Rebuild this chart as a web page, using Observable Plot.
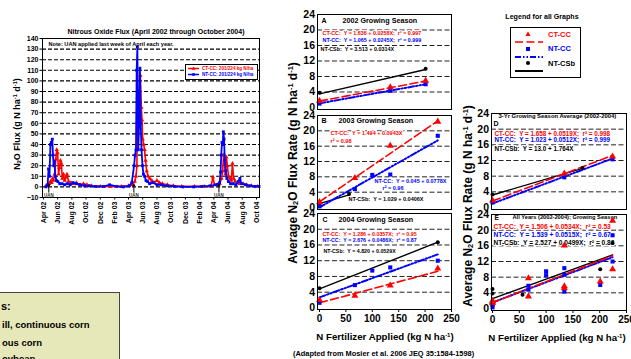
<!DOCTYPE html>
<html><head><meta charset="utf-8">
<script src="https://cdn.jsdelivr.net/npm/d3@7"></script>
<script src="https://cdn.jsdelivr.net/npm/@observablehq/plot@0.6"></script>
<style>
html,body{margin:0;padding:0;background:#fff;}
body{width:631px;height:359px;overflow:hidden;position:relative;font-family:"Liberation Sans",Arial,sans-serif;font-weight:bold;color:#000;}
.abs{position:absolute;white-space:nowrap;line-height:1;}
.ctr{transform:translate(-50%,-50%);}
.rot{transform:translate(-50%,-50%) rotate(-90deg);}
.sup{font-size:62%;vertical-align:0.55em;}
.sub{font-size:62%;vertical-align:-0.2em;}
svg{overflow:visible;}
</style></head><body>
<script>
// ---------------- DATA ----------------
// Time series: N2O flux (g N ha-1 d-1)
const ctccFlux = [
["2002-04-12",1],["2002-04-22",1],["2002-04-26",3],["2002-05-01",5],["2002-05-06",4],["2002-05-10",8],["2002-05-14",6],
["2002-05-19",12],["2002-05-24",26],["2002-05-28",35],["2002-06-01",32],["2002-06-05",12],["2002-06-09",18],["2002-06-13",25],
["2002-06-17",22],["2002-06-21",8],["2002-06-26",12],["2002-07-01",6],["2002-07-06",9],["2002-07-11",12],["2002-07-18",5],
["2002-07-28",4],["2002-08-08",3],["2002-08-20",4],["2002-09-05",2],["2002-09-20",3],["2002-10-05",2],["2002-10-25",1],
["2002-12-01",0.5],["2003-01-15",0.5],["2003-03-01",0.5],["2003-04-01",1],["2003-04-18",2],["2003-04-28",5],["2003-05-03",10],
["2003-05-07",20],["2003-05-10",84],["2003-05-14",90],["2003-05-18",60],["2003-05-22",105],["2003-05-26",75],["2003-05-29",63],
["2003-06-01",45],["2003-06-05",40],["2003-06-09",35],["2003-06-13",25],["2003-06-18",15],["2003-06-24",10],["2003-07-01",8],
["2003-07-10",6],["2003-07-20",4],["2003-08-01",6],["2003-08-12",4],["2003-08-25",3],["2003-09-15",2],["2003-10-10",1],
["2003-11-15",0.5],["2004-01-10",0.5],["2004-02-20",0.5],["2004-03-20",0.5],["2004-03-28",9],["2004-04-04",2],["2004-04-15",2],
["2004-04-26",3],["2004-05-04",8],["2004-05-09",15],["2004-05-13",30],["2004-05-17",22],["2004-05-21",12],["2004-05-25",28],
["2004-05-29",20],["2004-06-03",10],["2004-06-09",8],["2004-06-15",6],["2004-06-20",22],["2004-06-25",8],["2004-07-02",5],
["2004-07-12",4],["2004-07-22",3],["2004-08-05",3],["2004-08-20",2],["2004-09-10",1],["2004-10-05",0.5]
];
const ntccFlux = [
["2002-04-12",0],["2002-04-19",2],["2002-04-23",17],["2002-04-27",10],["2002-05-01",40],["2002-05-05",42],["2002-05-09",45],
["2002-05-12",30],["2002-05-15",20],["2002-05-18",24],["2002-05-22",10],["2002-05-27",6],["2002-06-02",5],["2002-06-10",3],
["2002-06-20",3],["2002-07-01",2],["2002-07-12",3],["2002-07-25",2],["2002-08-06",4],["2002-08-20",3],["2002-09-05",2],
["2002-09-25",1],["2002-10-15",1],["2002-11-10",0.5],["2002-12-15",0.5],["2003-01-10",2],["2003-02-10",0.5],["2003-03-10",0],
["2003-04-05",1],["2003-04-15",4],["2003-04-25",20],["2003-04-29",30],["2003-05-03",35],["2003-05-06",110],["2003-05-09",132],
["2003-05-13",35],["2003-05-17",64],["2003-05-20",112],["2003-05-23",60],["2003-05-27",35],["2003-05-31",20],["2003-06-04",12],
["2003-06-09",10],["2003-06-15",6],["2003-06-22",5],["2003-07-01",3],["2003-07-15",4],["2003-08-01",2],["2003-08-20",2],
["2003-09-15",1],["2003-10-15",0.5],["2003-11-20",0],["2004-01-05",0],["2004-02-10",0.5],["2004-03-15",1],["2004-04-10",2],
["2004-04-26",4],["2004-04-30",14],["2004-05-03",30],["2004-05-06",42],["2004-05-09",40],["2004-05-12",52],["2004-05-15",45],
["2004-05-18",25],["2004-05-22",15],["2004-05-27",8],["2004-06-03",5],["2004-06-12",3],["2004-06-22",3],["2004-07-05",2],
["2004-07-15",5],["2004-07-22",8],["2004-07-29",3],["2004-08-15",2],["2004-09-05",1],["2004-09-25",0.5],["2004-10-12",0.5]
];
const tsTickDates = ["2002-04-01","2002-06-01","2002-08-01","2002-10-01","2002-12-01","2003-02-01","2003-04-01","2003-06-01",
"2003-08-01","2003-10-01","2003-12-01","2004-02-01","2004-04-01","2004-06-01","2004-08-01","2004-10-01"];
const tsTickLabels = ["Apr 02","Jun 02","Aug 02","Oct 02","Dec 02","Feb 03","Apr 03","Jun 03","Aug 03","Oct 03","Dec 03",
"Feb 04","Apr 04","Jun 04","Aug 04","Oct 04"];
const tsYTicks = [-10,0,10,20,30,40,50,60,70,80,90,100,110,120,130,140];
const tsGrid = [0,10,20,30,40,50,60,70,80,90,100,110,120,130];
const uanDates = ["2002-04-24","2003-04-24","2004-04-23"];
const uanArrowY = [-5, 2.5];
const uanLabelY = -8;

// Panels: fertilizer N (kg N/ha) vs average flux
const fertTicks = [0,50,100,150,200,250];
const fluxTicks = [0,4,8,12,16,20,24];
const fluxGrid = [4,8,12,16,20];

const a_ct = [[0,1.7],[134,5.2],[201,6.9]];
const a_nt = [[0,1.0],[134,4.3],[201,6.0]];
const a_sb = [[0,3.8],[201,10.0]];
const a_ctFit = [[0,1.64],[201,6.82]];
const a_ntFit = [[0,1.07],[201,6.0]];
const a_sbFit = [[0,3.51],[201,9.8]];

const b_ct = [[0,1.4],[67,7.7],[134,16.1],[224,22.4]];
const b_nt = [[0,0.3],[67,4.8],[100,8.5],[134,8.6],[224,18.7]];
const b_sb = [[0,1.0],[56,3.5]];
const b_ctFit = [[0,1.49],[224,22.6]];
const b_ntFit = [[0,0.05],[224,17.5]];
const b_sbFit = [[0,1.03],[56,3.3]];

const c_ct = [[0,2.0],[67,3.1],[134,5.7],[224,10.0]];
const c_nt = [[0,1.3],[67,5.8],[100,9.5],[134,10.3],[224,12.0]];
const c_sb = [[0,5.0],[224,16.7]];
const c_ctFit = [[0,1.29],[224,9.3]];
const c_ntFit = [[0,2.68],[224,13.6]];
const c_sbFit = [[0,4.82],[224,16.7]];

const d_ct = [[0,1.8],[134,8.7],[224,13.0]];
const d_nt = [[0,1.3],[134,7.7],[224,12.3]];
const d_sb = [[0,3.3],[168,10.1]];
const d_ctFit = [[0,1.66],[224,13.3]];
const d_ntFit = [[0,1.02],[224,12.5]];
const d_sbFit = [[0,3.2],[168,10.0]];

const e_ctFit = [[0,1.51],[224,13.5]];
const e_ntFit = [[0,1.54],[224,13.1]];
const e_sbFit = [[0,2.53],[224,13.7]];

// ---------------- STYLE ----------------
const RED = "#ff0000", BLUE = "#0000ff", BLK = "#000";
const FONT = '"Liberation Sans", Arial, sans-serif';
const baseStyle = {fontFamily: FONT, fontWeight: "bold", background: "transparent", overflow: "visible", color: "#000"};
const P = d3.utcParse("%Y-%m-%d");
const pts = arr => arr.map(([n, f]) => ({n, f}));

function put(el, left, top) {
  el.style.position = "absolute";
  el.style.left = left + "px";
  el.style.top = top + "px";
  document.body.appendChild(el);
  return el;
}
function html(s, left, top, cls, css) {
  const d = document.createElement("div");
  d.className = "abs " + (cls || "");
  d.innerHTML = s;
  if (css) d.style.cssText = css;
  return put(d, left, top);
}

// ---------------- TIME SERIES ----------------
const ct = ctccFlux.map(([d, v]) => ({date: P(d), v}));
const nt = ntccFlux.map(([d, v]) => ({date: P(d), v}));
const tickDates = tsTickDates.map(P);
const labelMap = new Map(tickDates.map((d, i) => [+d, tsTickLabels[i]]));
const uan = uanDates.map(P);

const ts = Plot.plot({
  width: 265, height: 240,
  marginLeft: 42, marginRight: 6, marginTop: 38, marginBottom: 43,
  x: {type: "utc", domain: [P("2002-03-28"), P("2004-10-14")], axis: null},
  y: {domain: [-10, 140], axis: null},
  style: baseStyle,
  marks: [
    Plot.ruleY(tsGrid, {stroke: "#000", strokeWidth: 1.1, strokeDasharray: "4,2"}),
    Plot.line(ct, {x: "date", y: "v", stroke: RED, strokeWidth: 1.6}),
    Plot.dot(ct, {x: "date", y: "v", symbol: "triangle", r: 1.6, fill: RED}),
    Plot.line(nt, {x: "date", y: "v", stroke: BLUE, strokeWidth: 1.8}),
    Plot.dot(nt, {x: "date", y: "v", symbol: "square", r: 1.6, fill: BLUE}),
    Plot.arrow(uan, {x1: d => d, x2: d => d, y1: uanArrowY[0], y2: uanArrowY[1], stroke: "#000", strokeWidth: 1, headLength: 3}),
    Plot.text(uan, {x: d => d, y: uanLabelY, text: () => "UAN", fontSize: 4.5, fill: "#333"}),
    Plot.text(["Note: UAN applied last week of April each year."], {text: d => d, frameAnchor: "top-left", textAnchor: "start", lineAnchor: "middle", dx: 6, dy: 5.5, fontSize: 5.6}),
    Plot.frame({stroke: "#000", strokeWidth: 1}),
    Plot.axisY(tsYTicks, {tickSize: 2.5, tickPadding: 1.5, fontSize: 7, label: null}),
    Plot.axisX(tickDates, {tickSize: 2.5, tickPadding: 1.5, tickRotate: -90, fontSize: 7, label: null, tickFormat: d => labelMap.get(+d)})
  ]
});
put(ts, 0, 0);

html("Nitrous Oxide Flux (April 2002 through October 2004)", 156, 31, "ctr", "font-size:7px");
html('N<span class="sub">2</span>O Flux (g N ha<span class="sup">-1</span> d<span class="sup">-1</span>)', 18, 124, "rot", "font-size:9px");

// time-series legend
(function(){
  const ns = "http://www.w3.org/2000/svg";
  const s = document.createElementNS(ns, "svg");
  s.setAttribute("width", 74); s.setAttribute("height", 17);
  s.innerHTML = `
  <rect x="0.5" y="0.5" width="72" height="15" fill="#fff" stroke="#000" stroke-width="1"/>
  <line x1="3" x2="14" y1="4.5" y2="4.5" stroke="${RED}" stroke-width="1.5"/>
  <path d="M8.5,2.6 L10.4,5.8 L6.6,5.8 Z" fill="${RED}"/>
  <text x="17" y="4.5" dominant-baseline="middle" font-size="4.6" fill="${RED}" font-family='${FONT}' font-weight="bold">CT-CC:  201/224 kg N/ha</text>
  <line x1="3" x2="14" y1="10.5" y2="10.5" stroke="${BLUE}" stroke-width="1.5"/>
  <rect x="7.2" y="9.2" width="2.6" height="2.6" fill="${BLUE}"/>
  <text x="17" y="10.5" dominant-baseline="middle" font-size="4.6" fill="${BLUE}" font-family='${FONT}' font-weight="bold">NT-CC:  201/224 kg N/ha</text>`;
  put(s, 185, 64);
})();

// yellow treatments box (clipped at left edge)
html("", -30, 292, "", "width:150px;height:100px;background:#e7e8b9;border:1px solid #444;box-sizing:border-box;");
html("s:", 1, 301, "", "font-size:11px");
html("ill, continuous corn", 2, 320, "", "font-size:9.5px");
html("ous corn", 2, 338, "", "font-size:9.5px");
html("oybean", 2, 354, "", "font-size:9.5px");

// ---------------- PANELS ----------------
function panel(p) {
  const txt = p.texts.map(t => Plot.text([t.s], {
    text: d => d, frameAnchor: "top-left", textAnchor: "start", lineAnchor: "middle",
    dx: t.dx, dy: t.dy, fill: t.c || BLK, fontSize: t.fs, stroke: "white", strokeWidth: 2.2
  }));
  const marks = [
    Plot.ruleY(fluxGrid, {stroke: "#222", strokeWidth: 1, strokeDasharray: "5,2.5"}),
    ...txt,
    Plot.line(pts(p.sbFit), {x: "n", y: "f", stroke: BLK, strokeWidth: 1.4}),
    Plot.line(pts(p.ntFit), {x: "n", y: "f", stroke: BLUE, strokeWidth: 2, strokeDasharray: "6,2,1.5,2,1.5,2"}),
    Plot.line(pts(p.ctFit), {x: "n", y: "f", stroke: RED, strokeWidth: 1.6, strokeDasharray: "8,3.5"}),
    Plot.dot(pts(p.sb), {x: "n", y: "f", r: 2, fill: BLK}),
    Plot.dot(pts(p.nt), {x: "n", y: "f", symbol: "square", r: 2.3, fill: BLUE}),
    Plot.dot(pts(p.ct), {x: "n", y: "f", symbol: "triangle", r: 2.6, fill: RED}),
    Plot.frame({stroke: "#000", strokeWidth: 1}),
    Plot.axisY(fluxTicks, {tickSize: 0, tickPadding: 2.5, fontSize: 10.5, label: null})
  ];
  if (p.xlabels) marks.push(Plot.axisX(fertTicks, {tickSize: 3, tickPadding: 2.5, fontSize: 10, label: null}));
  const svg = Plot.plot({
    width: p.w, height: p.h,
    marginLeft: p.ml, marginRight: p.mr, marginTop: p.mt, marginBottom: p.mb,
    x: {domain: p.xdom, axis: null},
    y: {domain: p.ydom, axis: null},
    style: baseStyle,
    marks
  });
  put(svg, p.left, p.top);
}

panel({left: 285, top: 0, w: 172, h: 113, ml: 32, mr: 6, mt: 14, mb: 4, xdom: [-3.8, 250], ydom: [-0.52, 24],
  ct: a_ct, nt: a_nt, sb: a_sb, ctFit: a_ctFit, ntFit: a_ntFit, sbFit: a_sbFit,
  texts: [
    {s: "A", dx: 4, dy: 6, fs: 7},
    {s: "2002 Growing Season", dx: 25, dy: 6, fs: 7.2},
    {s: "CT-CC:  Y = 1.636 + 0.0258X;  r² = 0.997", dx: 5, dy: 19, fs: 5.4, c: RED},
    {s: "NT-CC:  Y = 1.065 + 0.0245X;  r² = 0.999", dx: 5, dy: 25.5, fs: 5.4, c: BLUE},
    {s: "NT-CSb:  Y = 3.513 + 0.0314X", dx: 3, dy: 35, fs: 5.4}
  ]});
panel({left: 285, top: 100, w: 172, h: 113, ml: 32, mr: 6, mt: 15, mb: 4, xdom: [-3.8, 250], ydom: [-0.52, 24],
  ct: b_ct, nt: b_nt, sb: b_sb, ctFit: b_ctFit, ntFit: b_ntFit, sbFit: b_sbFit,
  texts: [
    {s: "B", dx: 4, dy: 5.5, fs: 7},
    {s: "2003 Growing Season", dx: 21, dy: 5.5, fs: 7.2},
    {s: "CT-CC:  Y = 1.494 + 0.0943X", dx: 13, dy: 17.5, fs: 5.5, c: RED},
    {s: "r² = 0.98", dx: 13, dy: 25.5, fs: 5.5, c: RED},
    {s: "NT-CC:  Y = 0.045 + 0.0778X", dx: 57, dy: 66, fs: 5.5, c: BLUE},
    {s: "r² = 0.96", dx: 65, dy: 73, fs: 5.5, c: BLUE},
    {s: "NT-CSb:  Y = 1.029 + 0.0406X", dx: 31, dy: 84, fs: 5.5}
  ]});
panel({left: 285, top: 200, w: 172, h: 159, ml: 32, mr: 6, mt: 13, mb: 50, xdom: [-3.8, 250], ydom: [-0.4, 24], xlabels: true,
  ct: c_ct, nt: c_nt, sb: c_sb, ctFit: c_ctFit, ntFit: c_ntFit, sbFit: c_sbFit,
  texts: [
    {s: "C", dx: 5, dy: 6, fs: 7},
    {s: "2004 Growing Season", dx: 21, dy: 6, fs: 7.2},
    {s: "CT-CC:  Y = 1.286 + 0.0357X;  r² = 0.95", dx: 5, dy: 21, fs: 5.3, c: RED},
    {s: "NT-CC:  Y = 2.676 + 0.0486X;  r² = 0.87", dx: 5, dy: 26.5, fs: 5.3, c: BLUE},
    {s: "NT-CSb:  Y = 4.820 + 0.0529X", dx: 6, dy: 38, fs: 5.3}
  ]});
panel({left: 465, top: 100, w: 166, h: 113, ml: 26, mr: 5, mt: 13, mb: 4, xdom: [-1.9, 250], ydom: [-0.51, 24],
  ct: d_ct, nt: d_nt, sb: d_sb, ctFit: d_ctFit, ntFit: d_ntFit, sbFit: d_sbFit,
  texts: [
    {s: "3-Yr Growing Season Average (2002-2004)", dx: 7, dy: 3, fs: 5.9},
    {s: "D", dx: 2, dy: 10, fs: 7},
    {s: "CT-CC:  Y = 1.658 + 0.0519X;  r² = 0.998", dx: 3, dy: 20, fs: 6.3, c: RED},
    {s: "NT-CC:  Y = 1.023 + 0.0512X;  r² = 0.999", dx: 3, dy: 26.5, fs: 6.3, c: BLUE},
    {s: "NT-CSb:  Y = 13.0 + 1.764X", dx: 3, dy: 35, fs: 6.3}
  ]});
panel({left: 465, top: 200, w: 166, h: 159, ml: 26, mr: 5, mt: 14, mb: 49, xdom: [-1.9, 250], ydom: [-0.51, 24], xlabels: true,
  ct: [...a_ct, ...b_ct, ...c_ct], nt: [...a_nt, ...b_nt, ...c_nt], sb: [...a_sb, ...b_sb, ...c_sb],
  ctFit: e_ctFit, ntFit: e_ntFit, sbFit: e_sbFit,
  texts: [
    {s: "E", dx: 3, dy: 3, fs: 6.5},
    {s: "All Years (2002-2004); Growing Season", dx: 21, dy: 3, fs: 5.7},
    {s: "CT-CC:  Y = 1.506 + 0.0534X;  r² = 0.53", dx: 2, dy: 12, fs: 6.6, c: RED},
    {s: "NT-CC:  Y = 1.539 + 0.0515X;  r² = 0.67", dx: 2, dy: 20, fs: 6.6, c: BLUE},
    {s: "NT-CSb:  Y = 2.527 + 0.0499X;  r² = 0.83", dx: 2, dy: 28, fs: 6.6}
  ]});

// axis titles & caption
const yTitle = 'Average N<span class="sub">2</span>O Flux Rate (g N ha<span class="sup">-1</span> d<span class="sup">-1</span>)';
const xTitle = 'N Fertilizer Applied (kg N ha<span class="sup">-1</span>)';
html(yTitle, 293, 163, "rot", "font-size:12px");
html(yTitle, 468, 206, "rot", "font-size:12px");
html(xTitle, 385, 337, "ctr", "font-size:9.7px");
html(xTitle, 557, 338, "ctr", "font-size:9.7px");
html("(Adapted from Mosier et al. 2006 JEQ 35:1584-1598)", 293, 350, "", "font-size:7.4px");

// legend for all graphs
html("Legend for all Graphs", 542, 18, "ctr", "font-size:7.1px");
(function(){
  const ns = "http://www.w3.org/2000/svg";
  const s = document.createElementNS(ns, "svg");
  s.setAttribute("width", 72); s.setAttribute("height", 52);
  s.innerHTML = `
  <rect x="0.5" y="0.5" width="70" height="50" fill="#fff" stroke="#000" stroke-width="1"/>
  <path d="M18,4.5 L20.6,9 L15.4,9 Z" fill="${RED}"/>
  <line x1="5" x2="33" y1="15" y2="15" stroke="${RED}" stroke-width="1.6" stroke-dasharray="8,3.5"/>
  <text x="38" y="8" dominant-baseline="middle" font-size="7.5" fill="${RED}" font-family='${FONT}' font-weight="bold">CT-CC</text>
  <rect x="16" y="20" width="4" height="4" fill="${BLUE}"/>
  <line x1="5" x2="33" y1="30" y2="30" stroke="${BLUE}" stroke-width="2" stroke-dasharray="6,2,1.5,2,1.5,2"/>
  <text x="38" y="22.5" dominant-baseline="middle" font-size="7.5" fill="${BLUE}" font-family='${FONT}' font-weight="bold">NT-CC</text>
  <circle cx="18" cy="36" r="2" fill="#000"/>
  <line x1="5" x2="33" y1="44" y2="44" stroke="#000" stroke-width="2"/>
  <text x="38" y="37" dominant-baseline="middle" font-size="7.5" fill="#000" font-family='${FONT}' font-weight="bold">NT-CSb</text>`;
  put(s, 510, 27);
})();
</script>
</body></html>
